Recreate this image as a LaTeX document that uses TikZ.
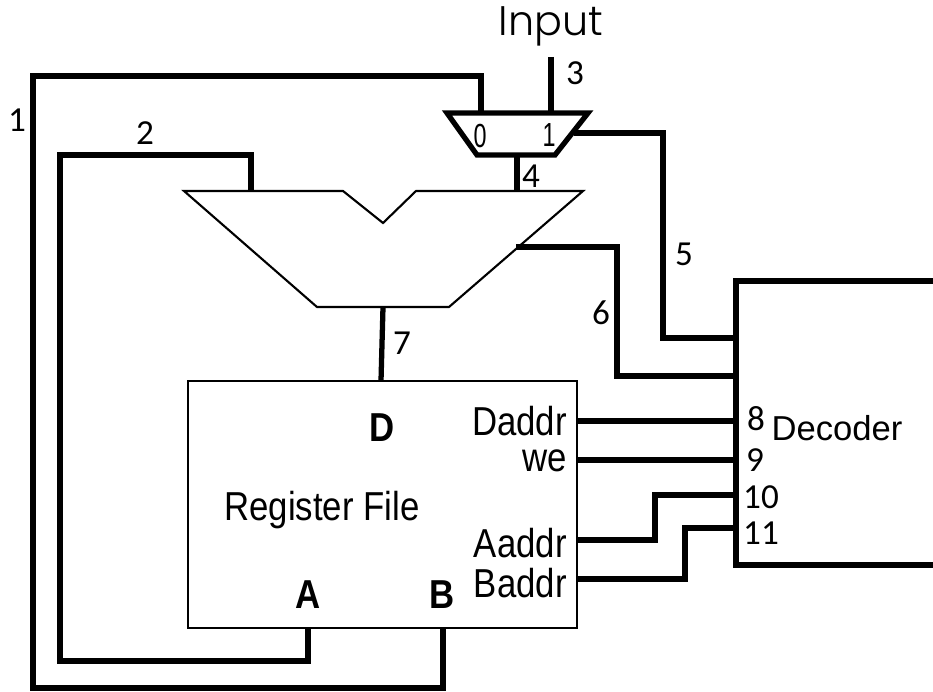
\documentclass[tikz,border=0pt]{standalone}
\usepackage{fontspec}
\setmainfont{Carlito}
\newfontfamily\labelfont[FakeStretch=0.86,BoldFont={Liberation Sans Bold}]{Liberation Sans}
\newfontfamily\decoderfont{Liberation Sans}
\newfontfamily\muxfont[FakeStretch=0.7]{Liberation Sans}
\newfontfamily\inputfont{Poppins Light}
\usepackage{tikz}
\usetikzlibrary{positioning,calc}

\begin{document}
\begin{tikzpicture}[x=0.02cm, y=-0.02cm,
    thinline/.style={draw=black, line width=1.2pt},
    wire/.style={draw=black, line width=3pt, line join=miter},
    num/.style={font=\fontsize{20}{24}\selectfont, inner sep=0pt},
    tag/.style={font=\fontsize{23}{26}\selectfont\labelfont, inner sep=0pt},
    port/.style={font=\fontsize{23}{26}\selectfont\labelfont\bfseries, inner sep=0pt},
    muxnum/.style={font=\fontsize{19}{22}\selectfont\muxfont, inner sep=0pt}]
  \useasboundingbox (0,0) rectangle (933,692);
  % Register file and the decoder
  \node[thinline, minimum width=7.78cm, minimum height=4.94cm, inner sep=0pt] (regfile) at (382.5,504.5) {};
  \draw[wire, line width=3.2pt] (933,281) -- (736,281) -- (736,565) -- (933,565);
  \coordinate (decoder5) at (736,338);
  \coordinate (decoder6) at (736,376);
  \coordinate (decoder8) at (736,421);
  \coordinate (decoder9) at (736,460);
  \coordinate (decoder10) at (736,495);
  \coordinate (decoder11) at (736,528);
  % Muxes
  \draw[thinline] (184,191) -- (343,191) -- (383,223) -- (416,191) -- (583,191) -- (449,307) -- (317,307) -- cycle;
  \draw[wire] (447,113) -- (588,113) -- (555,155) -- (477,155) -- cycle;
  \coordinate (bigleft) at (251,191);
  \coordinate (bigright) at (517,191);
  \coordinate (bigside) at (516,247);
  \coordinate (bigout) at (383,307);
  \coordinate (smallzero) at (481,113);
  \coordinate (smallone) at (551,113);
  \coordinate (smallout) at (517,155);
  \coordinate (smallside) at (574,133);
  \coordinate (inputend) at (551,57);
  \coordinate (regD) at (381,381);
  \coordinate (regA) at (308,628);
  \coordinate (regB) at (443,628);
  \coordinate (regDaddr) at (577,421);
  \coordinate (regwe) at (577,460);
  \coordinate (regAaddr) at (577,540);
  \coordinate (regBaddr) at (577,579);
  % Wires
  \draw[wire] (regB) -- (443,688) -- (33,688) -- (33,76) -- (481,76) -- (smallzero);
  \draw[wire] (regA) -- (308,661) -- (60,661) -- (60,155) -- (251,155) -- (bigleft);
  \draw[wire] (inputend) -- (smallone);
  \draw[wire] (smallout) -- (bigright);
  \draw[wire] (smallside) -- (663,133) -- (663,338) -- (decoder5);
  \draw[wire] (bigside) -- (617,247) -- (617,376) -- (decoder6);
  \draw[wire] (bigout) -- (regD);
  \draw[wire] (regDaddr) -- (decoder8);
  \draw[wire] (regwe) -- (decoder9);
  \draw[wire] (regAaddr) -- (655,540) -- (655,495) -- (decoder10);
  \draw[wire] (regBaddr) -- (685,579) -- (685,528) -- (decoder11);
  % Labels
  \node[font=\fontsize{23.5}{26}\selectfont\inputfont, inner sep=0pt] (inputlabel) at (551,26) {Input};
  \node[num] (n1) at (17,120) {1};
  \node[num] (n2) at (145,133) {2};
  \node[num] (n3) at (575,73) {3};
  \node[num] (n4) at (531,176) {4};
  \node[num] (n5) at (684,254) {5};
  \node[num] (n6) at (601,313) {6};
  \node[num] (n7) at (402,343) {7};
  \node[num] (n8) at (756,419) {8};
  \node[num] (n9) at (755,460) {9};
  \node[num] (n10) at (761,497) {10};
  \node[num] (n11) at (761,533) {11};
  \node[muxnum] (muxzero) at (480,136) {0};
  \node[muxnum] (muxone) at (549,135) {1};
  \node[font=\fontsize{19.7}{22}\selectfont\decoderfont, inner sep=0pt] (decoderlabel) at (837,428) {Decoder};
  \node[tag] (reglabel) at (322,510) {Register File};
  \node[tag, anchor=east] (daddr) at (567,421) {Daddr};
  \node[tag, anchor=east] (we) at (567,461) {we};
  \node[tag, anchor=east] (aaddr) at (567,543) {Aaddr};
  \node[tag, anchor=east] (baddr) at (567,583) {Baddr};
  \node[port] (portD) at (382,428) {D};
  \node[port] (portA) at (308,595) {A};
  \node[port] (portB) at (442,595) {B};
\end{tikzpicture}
\end{document}
